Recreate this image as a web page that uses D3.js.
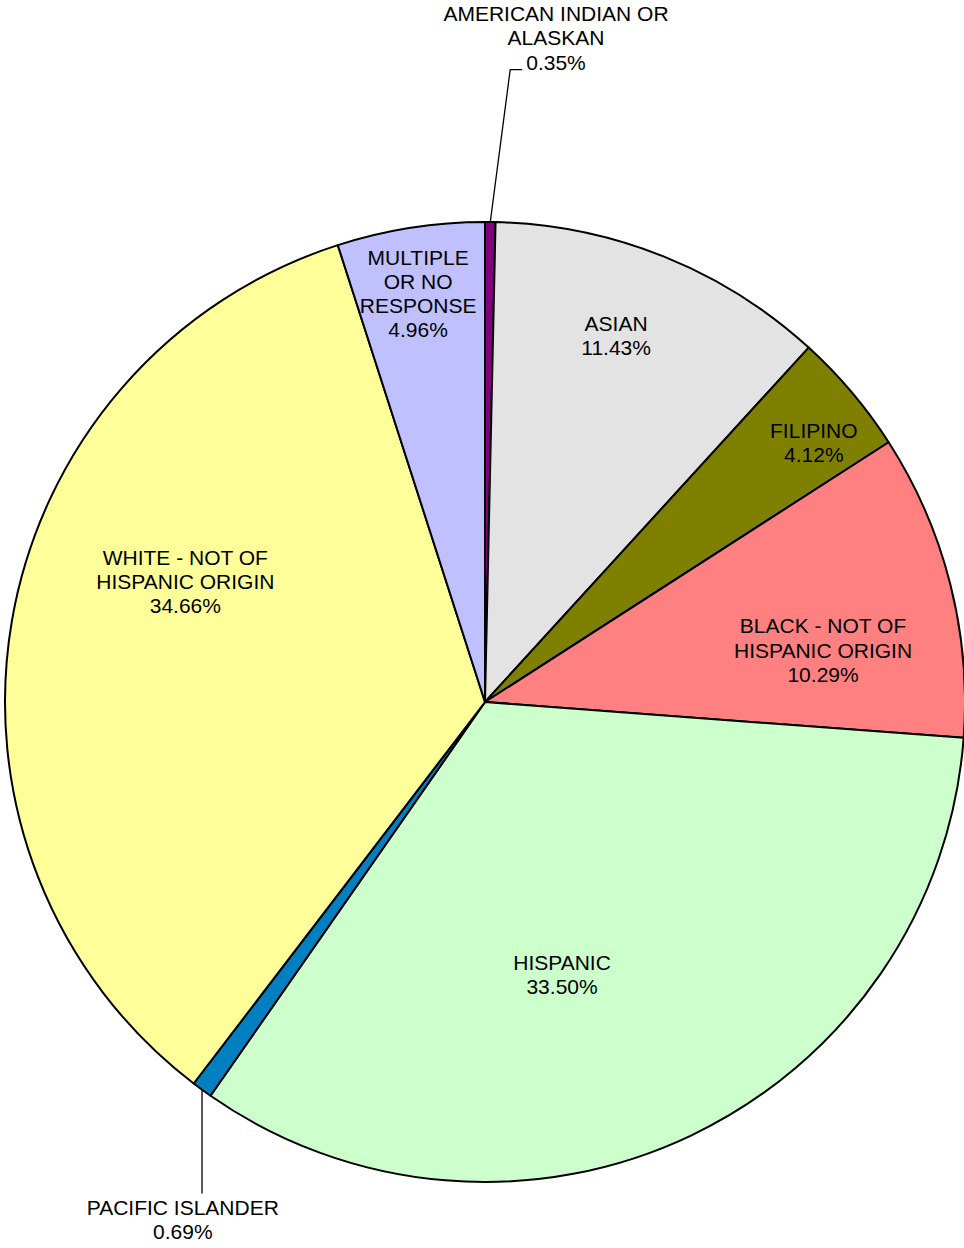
<!DOCTYPE html>
<html>
<head>
<meta charset="utf-8">
<script src="https://cdn.jsdelivr.net/npm/d3@7"></script>
<style>
  html, body { margin: 0; padding: 0; background: #fff; }
  svg text { font-family: "Liberation Sans", Arial, sans-serif; font-size: 21px; fill: #000; }
</style>
</head>
<body>
<div id="piediv"></div>
<script>

// sizes
var w = 964;
var h = 1248;
var cx = 485;
var cy = 702;
var radius = 480;

// data, clockwise from 12 o'clock
var categories = ["AMERICAN INDIAN OR ALASKAN", "ASIAN", "FILIPINO", "BLACK - NOT OF HISPANIC ORIGIN",
                  "HISPANIC", "PACIFIC ISLANDER", "WHITE - NOT OF HISPANIC ORIGIN", "MULTIPLE OR NO RESPONSE"];
var labelLines = [["AMERICAN INDIAN OR", "ALASKAN"], ["ASIAN"], ["FILIPINO"], ["BLACK - NOT OF", "HISPANIC ORIGIN"],
                  ["HISPANIC"], ["PACIFIC ISLANDER"], ["WHITE - NOT OF", "HISPANIC ORIGIN"], ["MULTIPLE", "OR NO", "RESPONSE"]];
var percents = [0.35, 11.43, 4.12, 10.29, 33.50, 0.69, 34.66, 4.96];
var colors = ["#800080", "#E3E3E3", "#808000", "#FF8080", "#CCFFCC", "#0080C0", "#FFFF99", "#C0C0FF"];

// label placement (polar, degrees clockwise from top, px from centre)
var labelAngle  = [6.1, 19.7, 51.7, 81.3, 164.2, 210.3, 291.9, 350.7];
var labelRadius = [668, 389, 419, 342, 283, 599, 323, 414];
var outside     = [true, false, false, false, false, true, false, false];

var lineH = 24.3;
var capH = 15;

var svg = d3.select("#piediv")
            .append("svg")
              .attr("width", w)
              .attr("height", h);

var pie = d3.pie()
            .sort(null)
            .value(function(d) { return d; });

var arc = d3.arc()
            .innerRadius(0)
            .outerRadius(radius);

var arcs = pie(percents);

var g = svg.append("g")
           .attr("transform", "translate(" + cx + "," + cy + ")");

g.selectAll("path")
   .data(arcs)
   .enter()
   .append("path")
   .attr("d", arc)
   .attr("fill", function(d, i) { return colors[i]; })
   .attr("stroke", "#000")
   .attr("stroke-width", 2)
   .attr("stroke-linejoin", "round");

// labels
arcs.forEach(function(d, i) {
  var a = labelAngle[i] * Math.PI / 180;
  var lx = labelRadius[i] * Math.sin(a);
  var ly = -labelRadius[i] * Math.cos(a);
  var lines = labelLines[i].concat([percents[i].toFixed(2) + "%"]);
  var blockH = capH + (lines.length - 1) * lineH;
  var top = ly - blockH / 2;

  var t = g.append("text")
           .attr("text-anchor", "middle");
  lines.forEach(function(s, k) {
    t.append("tspan")
     .attr("x", lx)
     .attr("y", top + capH + k * lineH)
     .text(s);
  });

  if (outside[i]) {
    var mid = (d.startAngle + d.endAngle) / 2;
    var px = radius * Math.sin(mid);
    var py = -radius * Math.cos(mid);
    var pts;
    if (ly < 0) {
      // leader to the left of the last line
      var lastSpan = t.selectAll("tspan").nodes()[lines.length - 1];
      var tw = lastSpan.getComputedTextLength();
      var baseY = top + capH + (lines.length - 1) * lineH;
      var left = lx - tw / 2;
      pts = [[px, py], [left - 16, baseY], [left - 4, baseY]];
    } else {
      pts = [[px, py], [px, top - 6]];
    }
    g.append("path")
     .attr("d", d3.line()(pts))
     .attr("fill", "none")
     .attr("stroke", "#000")
     .attr("stroke-width", 1.3);
  }
});

</script>
</body>
</html>
